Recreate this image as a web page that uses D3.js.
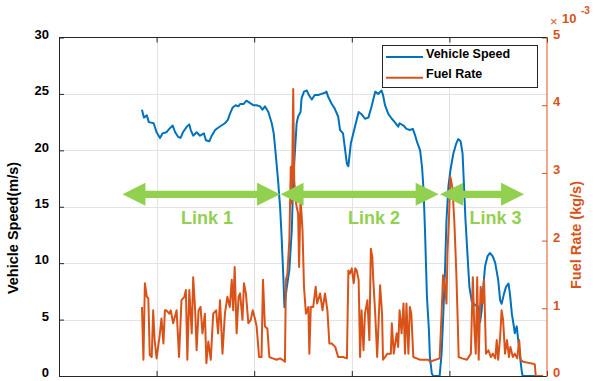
<!DOCTYPE html>
<html>
<head>
<meta charset="utf-8">
<script src="https://cdn.jsdelivr.net/npm/d3@7"></script>
<style>
  html, body { margin: 0; padding: 0; background: #fff; }
  svg { display: block; font-family: "Liberation Sans", Arial, Helvetica, sans-serif; }
</style>
</head>
<body>
<svg id="chart" width="595" height="381"></svg>
<script>
// ---- data -------------------------------------------------------------
// time axis ticks (drawn without labels)
const timeTicks = [0, 100, 200, 300, 400, 500];
// left axis: vehicle speed (m/s)
const speedTicks = [0, 5, 10, 15, 20, 25, 30];
// right axis: fuel rate, in units of 10^-3 kg/s
const fuelTicks = [0, 1, 2, 3, 4, 5];

// [time, speed m/s]
const speedData = [
  [85,23.6],[87,22.9],[90,23.1],[92,22.5],[97,22.4],[100,21.6],[103.5,21.1],[106,21.5],
  [110,21.6],[113,21.9],[116.5,22.2],[119,21.6],[122,21.2],[124.5,21.1],[127,21.6],[131,22.1],
  [133.5,22.3],[135,21.8],[137.5,21.3],[141,21.6],[144.5,21.3],[148.5,21.5],[150.5,20.9],[154,20.8],
  [156.5,21.3],[160,21.8],[163,22.0],[166.5,22.2],[170,22.4],[173,22.7],[175,23.2],[178,23.8],
  [181,24.0],[184,23.9],[185.5,24.1],[189,24.1],[192,24.4],[195.5,24.2],[199,24.0],[202.5,24.0],
  [206,23.9],[208.5,23.6],[211,23.9],[214.5,23.4],[218,22.4],[220,21.5],[222,19.7],[224.5,17.3],
  [226.5,15.0],[228,12.5],[230,8.5],[231,6.1],[233,7.6],[236,9.4],[238.5,12.9],[240,17.3],
  [242,20.3],[243.5,22.4],[245,23.0],[247.5,23.4],[248.5,24.6],[251,25.2],[254,25.3],[256,24.9],
  [259,24.5],[262,24.9],[265.5,24.9],[269,25.0],[272.5,25.1],[274,25.2],[276,24.7],[279.5,24.1],
  [282.5,23.7],[286,23.0],[288,21.8],[291,21.5],[295,18.8],[296.5,18.6],[299,20.6],[301.5,21.5],
  [305,22.7],[307,23.4],[310,23.2],[313.5,22.8],[317,22.9],[320,23.8],[324,25.2],[327,25.0],
  [330.5,25.3],[332,24.9],[334,24.0],[337.5,23.2],[341,22.8],[344,22.5],[347.5,22.1],[349,22.4],
  [353,22.2],[356,21.9],[359.5,21.8],[362.5,21.9],[365,21.3],[367,20.7],[370,20.0],[372,18.5],
  [373.5,16.5],[375,12.9],[377,7.0],[379,4.1],[380,1.7],[382,0.2],[383.5,0],[390,0],
  [392,2.0],[393.5,5.0],[395.5,9.4],[397,13.8],[399,16.8],[401,18.2],[404,19.7],[407,20.6],
  [409,21.0],[411.5,20.8],[413.5,19.7],[415,16.8],[416.5,13.8],[418.5,10.8],[420.5,7.9],[423,6.6],
  [426,6.3],[430,6.1],[431.5,4.8],[433,5.8],[435,8.2],[436.5,9.7],[439,10.6],[441.5,10.9],
  [444.5,10.6],[447,10.0],[450,8.5],[452,6.7],[453.5,6.4],[456,7.3],[458,7.9],[460.5,8.2],
  [462,7.3],[464,5.5],[465.5,4.7],[467,3.8],[469,4.4],[470.5,3.2],[472,2.0],[474,0.5],
  [475,0],[493,0]
];

// [time, fuel rate x10^-3 kg/s]
const fuelData = [
  [85,1.02],[86.5,0.24],[88,1.37],[90,1.17],[91.5,1.15],[93,0.31],[95,0.28],[96.5,0.97],
  [98,0.53],[100,0.26],[103,0.58],[105,0.85],[107,0.48],[108.5,0.97],[110,0.97],[113,0.92],
  [114.5,0.97],[117,0.78],[120.5,0.97],[123,0.28],[125.5,1.12],[128.5,1.17],[130,1.27],[131.5,0.24],
  [133.5,1.27],[136,0.63],[137.5,1.46],[139.5,0.97],[141,0.38],[143,0.97],[145,1.02],[147,0.63],
  [149.5,0.92],[151,0.19],[153,0.51],[155.5,0.24],[158,0.92],[161,0.97],[163,0.63],[165,1.12],
  [167.5,0.33],[170,0.92],[172.5,1.17],[175,1.02],[177,1.42],[178.5,0.97],[180,1.61],[182,0.63],
  [184,1.17],[185.5,1.22],[188,0.83],[189.5,1.37],[191.5,1.22],[194,0.78],[196.5,0.83],[198.5,0.97],
  [201,0.83],[202.5,0.73],[205,0.28],[207.5,0.28],[209,1.42],[211,0.73],[213.5,0.70],[215.5,0.28],
  [219,0.26],[223,0.24],[226.5,0.26],[229,0.24],[231.5,0.21],[232.5,1.42],[234,1.51],[236,2.0],
  [237.5,3.09],[238.5,2.55],[240,4.24],[241,2.89],[242.5,2.6],[243.5,2.5],[245,2.4],[246,1.61],
  [247.5,2.64],[249.5,2.15],[251,1.32],[253,0.92],[255.5,1.02],[256.5,0.33],[258,1.02],[260.5,1.02],
  [263,1.32],[264.5,1.07],[267.5,1.22],[270,0.97],[272.5,1.22],[275,0.97],[277,0.48],[279.5,0.48],
  [283,0.43],[286,0.28],[291,0.28],[295,0.26],[296.5,1.56],[298,1.51],[300,1.59],[302,1.37],
  [303.5,1.59],[305,1.56],[307,1.42],[308.5,0.28],[310,0.97],[312,0.38],[313.5,0.92],[316,1.12],
  [318,0.53],[319.5,1.88],[321,1.76],[322,1.42],[324,0.92],[326,0.28],[327,0.63],[329,1.34],
  [331,0.92],[332,0.24],[334,0.28],[336.5,0.33],[340,0.33],[341,0.78],[343,0.33],[344,0.43],
  [346,0.63],[347.5,0.43],[349,0.97],[351,0.63],[353,1.07],[354.5,0.33],[356,1.07],[358,0.33],
  [359.5,1.02],[361,0.92],[363,0.28],[366.5,0.26],[370,0.24],[378.5,0.24],[380,0.21],[390,0.26],
  [392,0.92],[393.5,1.49],[395.5,1.32],[397,1.07],[398,1.81],[399.5,2.3],[401,2.94],[403,2.79],
  [405,2.3],[407,1.56],[408.5,0.83],[409.5,0.28],[413,0.26],[418,0.24],[422,0.33],[424,1.46],
  [425.5,0.73],[427,0.33],[428.5,1.46],[430,0.24],[432,1.32],[434,1.07],[435.5,1.42],[437.5,0.33],
  [440,0.38],[442.5,0.28],[444.5,0.33],[447,0.26],[448.5,0.53],[450,0.24],[452,0.58],[453.5,0.97],
  [455,0.83],[457,0.33],[459,0.53],[461,0.28],[462.5,0.43],[465,0.28],[467,0.33],[469.5,0.26],
  [471.5,0.53],[473,0.24],[475.5,0.21],[482.5,0.19],[486,0.18],[487.5,0.17],[488.5,0],[496,0]
];

// road links: names, start/end times and where their labels sit
const linkNames  = ["Link 1", "Link 2", "Link 3"];
const linkStart  = [65, 227, 390.5];
const linkEnd    = [226.5, 389, 476.5];
const linkLabelT = [151.6, 322.7, 447.2];

// ---- layout & scales --------------------------------------------------
const BLUE = "#0072BD", ORANGE = "#D95319", GREEN = "#92D050", AXIS = "#262626";
const L = 59, R = 547, T = 37.5, B = 376;

const svg = d3.select("#chart");
const x  = d3.scaleLinear().domain([0, 500]).range([L, R]);
const yS = d3.scaleLinear().domain([0, 30]).range([B, T]);
const yF = d3.scaleLinear().domain([0, 5]).range([B, T]);

// grid
const grid = svg.append("g").attr("stroke", "#e3e3e3").attr("stroke-width", 1);
grid.selectAll("line.h").data(speedTicks.filter(d => d > 0 && d < 30)).join("line")
  .attr("x1", L).attr("x2", R)
  .attr("y1", d => Math.round(yS(d)) + 0.5).attr("y2", d => Math.round(yS(d)) + 0.5);
grid.selectAll("line.v").data(timeTicks.filter(d => d > 0 && d < 500)).join("line")
  .attr("y1", T).attr("y2", B)
  .attr("x1", d => Math.round(x(d)) + 0.5).attr("x2", d => Math.round(x(d)) + 0.5);

// data lines
svg.append("clipPath").attr("id", "plotclip")
  .append("rect").attr("x", L).attr("y", T - 2).attr("width", R - L).attr("height", B - T + 3);

const plot = svg.append("g").attr("clip-path", "url(#plotclip)");
plot.append("path").datum(speedData)
  .attr("fill", "none").attr("stroke", BLUE).attr("stroke-width", 2)
  .attr("stroke-linejoin", "round")
  .attr("d", d3.line().x(d => x(d[0])).y(d => yS(d[1])));
plot.append("path").datum(fuelData)
  .attr("fill", "none").attr("stroke", ORANGE).attr("stroke-width", 2)
  .attr("stroke-linejoin", "round")
  .attr("d", d3.line().x(d => x(d[0])).y(d => yF(d[1])));

// axes
const tickFont = g => g.selectAll("text")
  .attr("font-size", 13).attr("font-weight", "bold")
  .attr("font-family", "'Liberation Sans', Arial, sans-serif");

const gb = svg.append("g").attr("transform", `translate(0,${B})`)
  .call(d3.axisBottom(x).tickValues(timeTicks).tickSize(-5).tickFormat(""));
gb.select(".domain").remove();
gb.selectAll("line").attr("stroke", AXIS);

const gt = svg.append("g").attr("transform", `translate(0,${T})`)
  .call(d3.axisTop(x).tickValues(timeTicks).tickSize(-5).tickFormat(""));
gt.select(".domain").remove();
gt.selectAll("line").attr("stroke", AXIS);

const gl = svg.append("g").attr("transform", `translate(${L},0)`)
  .call(d3.axisLeft(yS).tickValues(speedTicks).tickSize(-5).tickPadding(10).tickFormat(d3.format("d")));
gl.select(".domain").remove();
gl.selectAll("line").attr("stroke", AXIS);
gl.call(tickFont);
gl.selectAll("text").attr("fill", "#000").attr("dy", "0.06em");

const gr = svg.append("g").attr("transform", `translate(${R},0)`)
  .call(d3.axisRight(yF).tickValues(fuelTicks).tickSize(-5).tickPadding(6).tickFormat(d3.format("d")));
gr.select(".domain").remove();
gr.selectAll("line").attr("stroke", ORANGE);
gr.call(tickFont);
gr.selectAll("text").attr("fill", ORANGE).attr("dy", "0.06em");

// frame
svg.append("line").attr("x1", L).attr("x2", R).attr("y1", T).attr("y2", T).attr("stroke", AXIS);
svg.append("line").attr("x1", L).attr("x2", R).attr("y1", B + 0.5).attr("y2", B + 0.5).attr("stroke", AXIS);
svg.append("line").attr("x1", L + 0.5).attr("x2", L + 0.5).attr("y1", T).attr("y2", B + 1).attr("stroke", AXIS);
svg.append("line").attr("x1", R).attr("x2", R).attr("y1", T).attr("y2", B + 1).attr("stroke", ORANGE);

// exponent marker of the right axis
const ex = svg.append("g").attr("fill", ORANGE).attr("font-weight", "bold");
ex.append("text").attr("x", 550).attr("y", 26).attr("font-size", 13).attr("font-weight", "normal").text("×");
ex.append("text").attr("x", 562).attr("y", 23).attr("font-size", 13).text("10");
ex.append("text").attr("x", 581).attr("y", 14).attr("font-size", 10).text("-3");

// axis titles
svg.append("text")
  .attr("transform", `translate(18,${228}) rotate(-90)`)
  .attr("text-anchor", "middle").attr("font-size", 14.5).attr("font-weight", "bold")
  .attr("fill", "#000").text("Vehicle Speed(m/s)");
svg.append("text")
  .attr("transform", `translate(581,${235}) rotate(-90)`)
  .attr("text-anchor", "middle").attr("font-size", 14.5).attr("font-weight", "bold")
  .attr("fill", ORANGE).text("Fuel Rate (kg/s)");

// link arrows
const yArrow = yS(16.1), yLabel = yS(13.45);
function arrowPath(x1, x2, yc) {
  const hl = 23, hh = 11.5, sh = 3.6;
  return `M${x1},${yc} L${x1 + hl},${yc - hh} L${x1 + hl},${yc - sh} L${x2 - hl},${yc - sh}` +
         ` L${x2 - hl},${yc - hh} L${x2},${yc} L${x2 - hl},${yc + hh} L${x2 - hl},${yc + sh}` +
         ` L${x1 + hl},${yc + sh} L${x1 + hl},${yc + hh} Z`;
}
const links = svg.append("g");
links.selectAll("path").data(linkNames).join("path")
  .attr("fill", GREEN)
  .attr("d", (d, i) => arrowPath(x(linkStart[i]), x(linkEnd[i]), yArrow));
links.selectAll("text").data(linkNames).join("text")
  .attr("x", (d, i) => x(linkLabelT[i])).attr("y", yLabel)
  .attr("text-anchor", "middle").attr("font-size", 18).attr("font-weight", "bold")
  .attr("fill", GREEN).text(d => d);

// legend
const lg = svg.append("g");
lg.append("rect").attr("x", 382.5).attr("y", 45.5).attr("width", 155).attr("height", 42)
  .attr("fill", "#fff").attr("stroke", AXIS);
const legendItems = [["Vehicle Speed", BLUE, 57], ["Fuel Rate", ORANGE, 77.7]];
legendItems.forEach(([label, color, yy]) => {
  lg.append("line").attr("x1", 386).attr("x2", 423).attr("y1", yy).attr("y2", yy)
    .attr("stroke", color).attr("stroke-width", 2);
  lg.append("text").attr("x", 426).attr("y", yy + 0.5).attr("font-size", 12.5)
    .attr("font-weight", "bold").attr("fill", "#000").text(label);
});
</script>
</body>
</html>
